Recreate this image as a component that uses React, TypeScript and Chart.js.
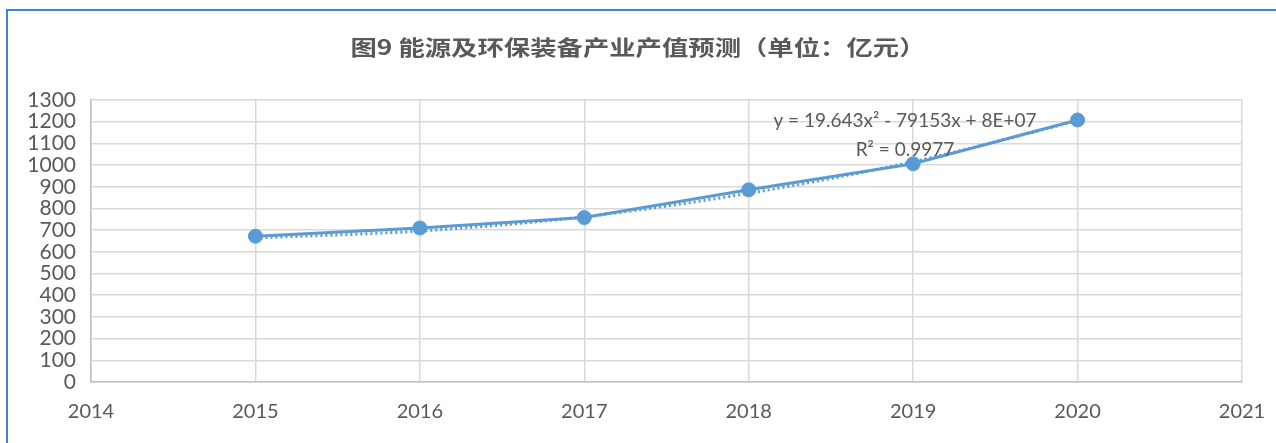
import React, { useEffect, useRef } from "react";
import { Chart, registerables } from "chart.js";

Chart.register(...registerables);

const titleText = "图9 能源及环保装备产业产值预测（单位：亿元）";
const years = [2015, 2016, 2017, 2018, 2019, 2020];
const values = [672, 710, 758, 886, 1006, 1208];
const trendValues = [664, 696, 762, 870, 1016, 1204];
const equationLines = ["y = 19.643x² - 79153x + 8E+07", "R² = 0.9977"];
const xMin = 2014;
const xMax = 2021;
const yMin = 0;
const yMax = 1300;
const yStep = 100;

const BLUE = "#5B9BD5";
const TEXT = "#595959";
const GRID = "#d9d9d9";

const framePlugin = {
  id: "frameAndTitle",
  beforeDraw(chart: any) {
    const { ctx, width, height } = chart;
    ctx.save();
    ctx.fillStyle = "#ffffff";
    ctx.fillRect(0, 0, width, height);
    ctx.strokeStyle = "#3a86d6";
    ctx.lineWidth = 2;
    ctx.beginPath();
    ctx.moveTo(7, height);
    ctx.lineTo(7, 10);
    ctx.lineTo(width, 10);
    ctx.stroke();
    // title
    ctx.font = 'bold 21px "Noto Sans CJK SC"';
    ctx.fillStyle = TEXT;
    ctx.textAlign = "center";
    ctx.textBaseline = "middle";
    const w = ctx.measureText(titleText).width;
    const sx = 575 / w;
    ctx.translate(width / 2, 47);
    ctx.scale(sx, 1);
    ctx.fillText(titleText, 0, 0);
    ctx.restore();
  },
  afterDatasetsDraw(chart: any) {
    const { ctx } = chart;
    const xs = chart.scales.x;
    const ys = chart.scales.y;
    ctx.save();
    ctx.font = '19px "Lato"';
    ctx.fillStyle = TEXT;
    ctx.textAlign = "center";
    ctx.textBaseline = "middle";
    const cx = xs.getPixelForValue(2018.95);
    ctx.fillText(equationLines[0], cx, ys.getPixelForValue(1203));
    ctx.fillText(equationLines[1], cx, ys.getPixelForValue(1070));
    ctx.restore();
  },
};

export default function App() {
  const ref = useRef<HTMLCanvasElement | null>(null);
  useEffect(() => {
    document.body.style.margin = "0";
    if (!ref.current) return;
    const chart = new Chart(ref.current, {
      type: "line",
      data: {
        datasets: [
          {
            label: "产值",
            data: years.map((x, i) => ({ x, y: values[i] })),
            borderColor: BLUE,
            backgroundColor: BLUE,
            borderWidth: 3,
            pointRadius: 7,
            pointBorderWidth: 1,
            pointBackgroundColor: BLUE,
            pointBorderColor: BLUE,
            tension: 0,
            order: 1,
          },
          {
            label: "趋势线",
            data: years.map((x, i) => ({ x, y: trendValues[i] })),
            borderColor: BLUE,
            borderWidth: 3,
            borderDash: [2, 3],
            pointRadius: 0,
            cubicInterpolationMode: "monotone",
            order: 2,
          },
        ],
      },
      options: {
        animation: false,
        responsive: false,
        maintainAspectRatio: false,
        layout: { padding: { top: 100, right: 34, bottom: 0, left: 0 } },
        plugins: {
          legend: { display: false },
          title: { display: false },
          tooltip: { enabled: false },
        },
        scales: {
          x: {
            type: "linear",
            min: xMin,
            max: xMax,
            ticks: {
              stepSize: 1,
              padding: 18,
              color: TEXT,
              font: { family: "Lato", size: 20 },
              callback: (v: any) => String(v),
            },
            grid: { color: GRID, lineWidth: 1.5, drawTicks: false },
            border: { color: "#bfbfbf", width: 1.5 },
            afterFit: (s: any) => {
              s.height = 61;
              s.paddingLeft = 0;
              s.paddingRight = 0;
            },
          },
          y: {
            min: yMin,
            max: yMax,
            ticks: {
              stepSize: yStep,
              autoSkip: false,
              padding: 15,
              color: TEXT,
              font: { family: "Lato", size: 21 },
              callback: (v: any) => String(v),
            },
            grid: { color: GRID, lineWidth: 1.5, drawTicks: false },
            border: { color: "#bfbfbf", width: 1.5 },
            afterFit: (s: any) => {
              s.width = 91;
              s.paddingTop = 0;
              s.paddingBottom = 0;
            },
          },
        },
      },
      plugins: [framePlugin],
    } as any);
    return () => chart.destroy();
  }, []);
  return (
    <div style={{ width: 1276, height: 443, background: "#fff" }}>
      <canvas ref={ref} width={1276} height={443} style={{ display: "block" }} />
    </div>
  );
}
